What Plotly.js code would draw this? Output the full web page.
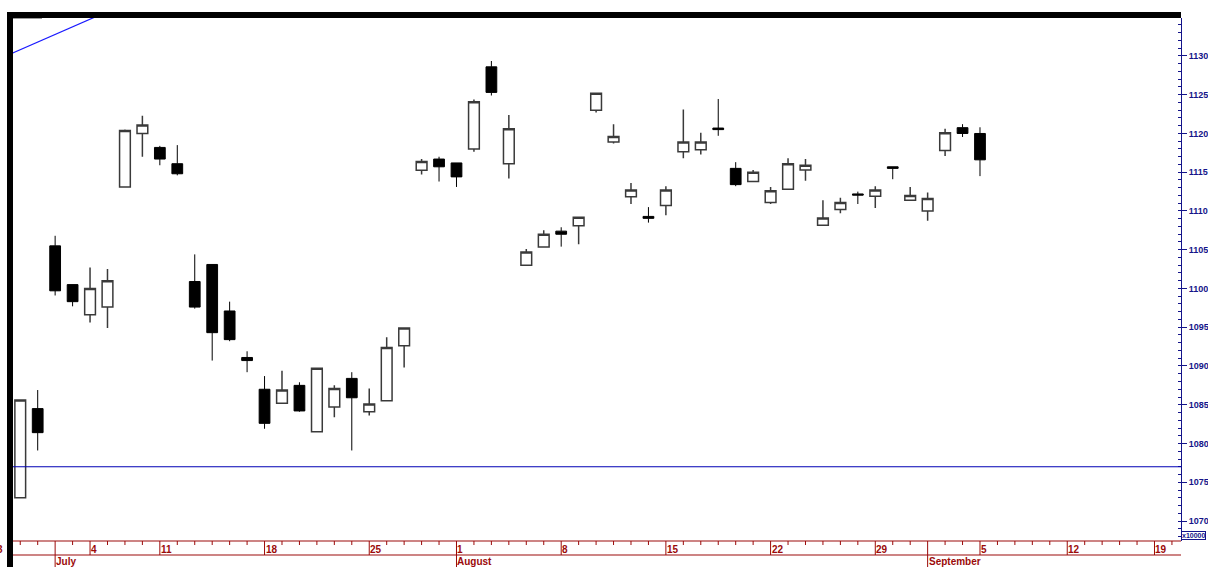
<!DOCTYPE html>
<html>
<head>
<meta charset="utf-8">
<script src="https://cdn.plot.ly/plotly-3.0.1.min.js"></script>
<style>
html,body{margin:0;padding:0;background:#fff;}
#chart{width:1208px;height:567px;}
</style>
</head>
<body>
<div id="chart"></div>
<script>
// ---- data (x = trading-day slot, 0 = 1 August) ----
var slots = [-25,-24,-23,-22,-21,-20,-19,-18,-17,-16,-15,-14,-13,-12,-11,-10,-9,-8,-7,-6,-5,-4,-3,-2,-1,
  0,1,2,3,4,5,6,7,8,9,10,11,12,13,14,15,16,17,18,19,20,21,22,23,24,25,26,27,28,29,30];
var openV = [1073.0,1084.5,1105.5,1100.5,1096.6,1097.6,1113.1,1120.0,1118.2,1116.1,1100.9,1103.1,1097.1,1091.1,1087.0,1085.2,1087.5,1081.5,1084.7,1088.4,1084.1,1085.5,1092.6,1115.25,1116.7,
  1116.2,1118.0,1128.6,1116.1,1103.0,1105.35,1107.4,1108.1,1123.0,1118.9,1111.85,1109.3,1110.7,1117.65,1117.9,1120.7,1115.5,1113.8,1111.1,1112.8,1115.3,1108.15,1110.2,1112.2,1111.9,1115.7,1111.4,1110.0,1117.8,1120.75,1120.0];
var highV = [1085.6,1086.9,1106.8,1100.5,1102.7,1102.5,1120.5,1122.3,1118.4,1118.5,1104.4,1103.1,1098.3,1091.9,1088.7,1089.4,1087.9,1089.7,1087.5,1089.2,1087.1,1093.7,1094.9,1116.7,1117.0,
  1116.2,1124.4,1129.35,1122.4,1105.1,1107.5,1107.9,1109.2,1125.2,1121.2,1113.6,1110.5,1113.2,1123.1,1120.1,1124.45,1116.3,1115.3,1113.1,1116.8,1116.7,1111.4,1111.7,1112.5,1113.2,1115.7,1113.1,1112.4,1120.6,1121.2,1120.8];
var lowV = [1073.0,1079.1,1099.1,1097.7,1095.6,1094.9,1113.0,1117.0,1115.9,1114.6,1097.4,1090.7,1093.2,1089.2,1081.9,1085.1,1084.1,1081.5,1083.4,1079.1,1083.6,1085.5,1089.8,1114.7,1113.8,
  1113.1,1117.65,1124.9,1114.2,1103.0,1105.35,1105.4,1105.7,1122.7,1118.7,1110.9,1108.5,1109.45,1116.8,1117.3,1119.7,1113.2,1113.7,1110.9,1112.8,1113.9,1108.15,1109.7,1110.9,1110.4,1114.1,1111.4,1108.75,1117.1,1119.55,1114.5];
var closeV = [1085.6,1081.4,1099.7,1098.3,1100.0,1101.0,1120.4,1121.1,1116.7,1114.8,1097.6,1094.3,1093.4,1090.7,1082.6,1086.9,1084.2,1089.7,1087.1,1085.9,1085.1,1092.4,1094.9,1116.4,1115.7,
  1114.4,1124.1,1125.3,1120.6,1104.7,1107.0,1107.0,1109.2,1125.2,1119.6,1112.7,1109.05,1112.7,1118.9,1118.9,1120.5,1113.4,1115.0,1112.6,1116.1,1115.9,1109.1,1111.1,1112.05,1112.7,1115.5,1112.0,1111.6,1120.1,1120.0,1116.6];

// reference lines
var hLineLevel = 1077.0;
var trendX = [-26, -20];
var trendY = [1129.83, 1135.73];

// y axis ticks
var yTickVals = [1070,1075,1080,1085,1090,1095,1100,1105,1110,1115,1120,1125,1130];
var yTickText = ['1070','1075','1080','1085','1090','1095','1100','1105','1110','1115','1120','1125','1130'];

// x axis (date) ticks
var dayTickSlots = [-21,-17,-11,-5,0,6,12,18,24,30,35,40];
var dayTickText  = ['4','11','18','25','1','8','15','22','29','5','12','19'];
var clippedTickSlot = -26.4, clippedTickText = '3';
var monthSlots = [-23, 0, 27];
var monthText  = ['July','August','September'];
var minorSlots = [];
for (var s = -25; s <= 41; s++) minorSlots.push(s);

// ---- layout geometry ----
var W = 1208, H = 567;
var L = 13, T = 18, R = 1181, B = 541;
var xRange = [-25.415, 41.519];
var yRange = [1067.42, 1134.90];
function px(x){ return (x - L) / (R - L); }
function py(y){ return (B - y) / (B - T); }
function slotToPaper(s){ return (s - xRange[0]) / (xRange[1] - xRange[0]); }

var red = '#9b0a0a';
var navy = '#14148a';
var fontFam = 'Liberation Sans, Arial, sans-serif';

var traces = [
  {
    type: 'candlestick',
    x: slots, open: openV, high: highV, low: lowV, close: closeV,
    increasing: {line: {color: '#3a3a3a', width: 1.5}, fillcolor: '#ffffff'},
    decreasing: {line: {color: '#000000', width: 1}, fillcolor: '#000000'},
    whiskerwidth: 0,
    hoverinfo: 'skip',
    showlegend: false
  },
  {
    type: 'scatter', mode: 'lines',
    x: trendX, y: trendY,
    line: {color: '#1a1aff', width: 1.2},
    hoverinfo: 'skip', showlegend: false
  }
];

var shapes = [];
var annotations = [];

// frame
shapes.push({type:'rect', xref:'paper', yref:'paper', x0:px(7), x1:px(R), y0:py(18), y1:py(12), fillcolor:'#000', line:{width:0}, layer:'above'});
shapes.push({type:'rect', xref:'paper', yref:'paper', x0:px(7), x1:px(13), y0:py(567), y1:py(12), fillcolor:'#000', line:{width:0}, layer:'above'});
shapes.push({type:'line', xref:'paper', yref:'paper', x0:px(13), x1:px(42), y0:py(18.5), y1:py(18.5), line:{color:'#999', width:1}});

// horizontal level line
shapes.push({type:'line', xref:'paper', yref:'y', x0:0, x1:1, y0:hLineLevel, y1:hLineLevel, line:{color:'#0000b4', width:1}});

// bottom axis box lines
shapes.push({type:'line', xref:'paper', yref:'paper', x0:px(13), x1:px(R), y0:py(541), y1:py(541), line:{color:red, width:1.2}});
shapes.push({type:'line', xref:'paper', yref:'paper', x0:px(13), x1:px(R), y0:py(555), y1:py(555), line:{color:red, width:1.2}});

// minor ticks
minorSlots.forEach(function(s){
  if (dayTickSlots.indexOf(s) >= 0 || monthSlots.indexOf(s) >= 0) return;
  shapes.push({type:'line', xref:'x', yref:'paper', x0:s, x1:s, y0:py(545), y1:py(541), line:{color:red, width:1}});
});
// major ticks + labels
dayTickSlots.forEach(function(s, i){
  shapes.push({type:'line', xref:'x', yref:'paper', x0:s, x1:s, y0:py(555), y1:py(541), line:{color:red, width:1}});
  annotations.push({xref:'x', yref:'paper', x:s, y:py(549.5), xanchor:'left', yanchor:'middle', xshift:-1,
    text:'<b>'+dayTickText[i]+'</b>', showarrow:false, font:{family:fontFam, size:10, color:red}});
});
annotations.push({xref:'paper', yref:'paper', x:slotToPaper(clippedTickSlot), y:py(549.5), xanchor:'left', yanchor:'middle', xshift:-1,
  text:'<b>'+clippedTickText+'</b>', showarrow:false, font:{family:fontFam, size:10, color:red}});
// months
monthSlots.forEach(function(s, i){
  shapes.push({type:'line', xref:'x', yref:'paper', x0:s, x1:s, y0:py(567), y1:py(541), line:{color:red, width:1}});
  annotations.push({xref:'x', yref:'paper', x:s, y:py(561.5), xanchor:'left', yanchor:'middle', xshift:-1,
    text:'<b>'+monthText[i]+'</b>', showarrow:false, font:{family:fontFam, size:10, color:red}});
});

// multiplier box
annotations.push({xref:'paper', yref:'paper', x:px(1181), y:py(535.5), xanchor:'left', yanchor:'middle',
  text:'<b>x10000</b>', showarrow:false, font:{family:fontFam, size:7, color:navy},
  bordercolor:navy, borderwidth:1, borderpad:0, bgcolor:'#fff'});

var layout = {
  width: W, height: H,
  margin: {l: L, r: W - R, t: T, b: H - B, pad: 0},
  paper_bgcolor: '#fff', plot_bgcolor: '#fff',
  showlegend: false,
  boxgap: 0.12,
  xaxis: {
    range: xRange, showgrid: false, zeroline: false, showticklabels: false,
    ticks: '', showline: false, fixedrange: true,
    rangeslider: {visible: false}
  },
  yaxis: {
    side: 'right', range: yRange, showgrid: false, zeroline: false,
    showline: true, linecolor: navy, linewidth: 1,
    tickmode: 'array', tickvals: yTickVals,
    ticktext: yTickText.map(function(t){ return '<b>'+t+'</b>'; }),
    ticks: 'outside', ticklen: 5, tickcolor: navy, tickwidth: 1,
    tickfont: {family: fontFam, size: 9, color: navy},
    minor: {tickmode: 'linear', tick0: 1070, dtick: 1, ticks: 'inside', ticklen: 3, tickcolor: navy, showgrid: false},
    fixedrange: true
  },
  shapes: shapes,
  annotations: annotations
};

Plotly.newPlot('chart', traces, layout, {displayModeBar: false, staticPlot: true});
</script>
</body>
</html>
